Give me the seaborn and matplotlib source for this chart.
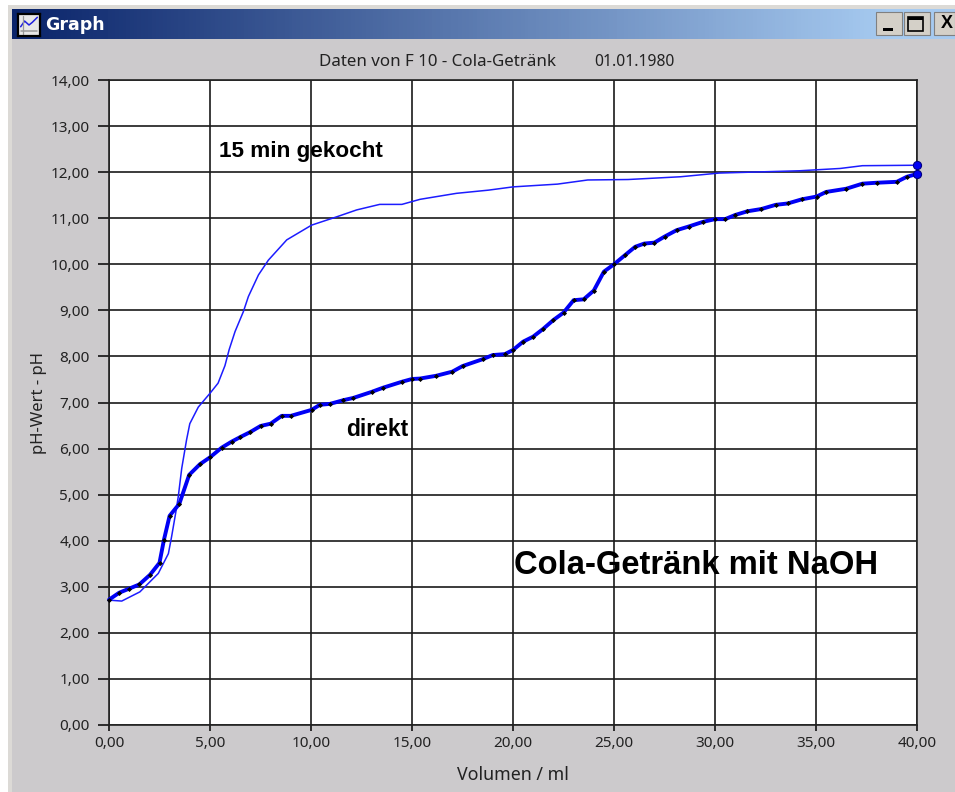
import matplotlib
matplotlib.use('Agg')
import numpy as np
import pandas as pd
import matplotlib.pyplot as plt
import seaborn as sns
from matplotlib.patches import Rectangle

# curve readings from the picture
direkt_vol = [0.0, 0.5, 1.0, 1.5, 2.03, 2.5, 2.72, 3.0, 3.48, 3.97, 4.5, 5.0, 5.58, 6.07, 6.5, 7.0,
              7.5, 8.0, 8.55, 9.0, 10.03, 10.44, 10.94, 11.6, 12.1, 13.0, 13.56, 14.5, 15.0, 15.4,
              16.2, 17.0, 17.5, 18.5, 19.0, 19.6, 20.0, 20.5, 21.0, 21.5, 22.0, 22.5, 23.0, 23.5,
              24.0, 24.5, 25.0, 25.55, 26.05, 26.5, 27.0, 27.5, 28.1, 28.7, 29.4, 30.0, 30.5, 31.0,
              31.6, 32.3, 33.0, 33.6, 34.3, 35.03, 35.5, 36.5, 37.3, 38.0, 39.0, 39.5, 40.0]
direkt_ph = [2.72, 2.87, 2.96, 3.05, 3.26, 3.52, 4.02, 4.54, 4.8, 5.43, 5.66, 5.81, 6.02, 6.15, 6.25,
             6.36, 6.49, 6.54, 6.71, 6.71, 6.84, 6.95, 6.97, 7.05, 7.1, 7.23, 7.32, 7.45, 7.51, 7.52,
             7.58, 7.67, 7.79, 7.94, 8.03, 8.05, 8.14, 8.32, 8.43, 8.6, 8.79, 8.95, 9.22, 9.24,
             9.43, 9.84, 10.0, 10.2, 10.38, 10.45, 10.47, 10.6, 10.74, 10.82, 10.92, 10.98, 10.98,
             11.07, 11.15, 11.2, 11.29, 11.32, 11.41, 11.47, 11.57, 11.64, 11.75, 11.77, 11.79,
             11.9, 11.96]

gekocht_vol = [0.0, 0.63, 1.53, 2.44, 2.94, 3.1, 3.3, 3.43, 3.6, 3.84, 4.0, 4.42, 5.0, 5.4, 5.74,
               5.95, 6.24, 6.65, 6.9, 7.4, 7.89, 8.8, 10.03, 11.27, 12.26, 13.4, 14.5, 15.4, 17.2,
               18.8, 20.0, 22.2, 23.7, 25.7, 28.3, 30.2, 34.2, 36.2, 37.3, 40.0]
gekocht_ph = [2.71, 2.69, 2.89, 3.29, 3.72, 4.09, 4.6, 4.96, 5.57, 6.19, 6.54, 6.9, 7.2, 7.42, 7.8,
              8.15, 8.54, 8.97, 9.3, 9.77, 10.09, 10.53, 10.85, 11.03, 11.18, 11.3, 11.3, 11.41,
              11.54, 11.61, 11.68, 11.74, 11.83, 11.84, 11.9, 11.98, 12.03, 12.08, 12.14, 12.15]

x_ticks = [0, 5, 10, 15, 20, 25, 30, 35, 40]
x_labels = ['0,00', '5,00', '10,00', '15,00', '20,00', '25,00', '30,00', '35,00', '40,00']
y_ticks = list(range(15))
y_labels = [f'{v},00' for v in y_ticks]

W, H = 955, 792
WINDOW_GRAY = '#cccacc'
TEXT_COL = '#222222'

sns.set_style('white')
plt.rcParams['font.family'] = ['Noto Sans', 'DejaVu Sans']

fig = plt.figure(figsize=(W / 100, H / 100), dpi=100, facecolor='white')


def fig_rect(px, py, w, h, **kw):
    # rectangle given in pixels from the top left corner
    fig.add_artist(Rectangle((px / W, 1 - (py + h) / H), w / W, h / H,
                             transform=fig.transFigure, **kw))


# window frame and title bar
fig_rect(8, 5, W - 8, H - 5, facecolor='#dcdad6', edgecolor='none')
fig_rect(12, 9, W - 12, H - 9, facecolor=WINDOW_GRAY, edgecolor='none')

bar = fig.add_axes([12 / W, 1 - 39 / H, (W - 12) / W, 30 / H], zorder=2)
gradient = np.linspace(0, 1, 256).reshape(1, -1)
cmap = matplotlib.colors.LinearSegmentedColormap.from_list('bar', ['#0a246a', '#a6caf0'])
bar.imshow(gradient, aspect='auto', cmap=cmap, extent=[0, 1, 0, 1], vmin=0, vmax=0.93)
bar.axis('off')

# title bar icon
icon = fig.add_axes([18 / W, 1 - 36 / H, 22 / W, 22 / H], zorder=3)
icon.set_xlim(0, 1)
icon.set_ylim(0, 1)
icon.set_facecolor('#e8e8e8')
icon.set_xticks([])
icon.set_yticks([])
for s in icon.spines.values():
    s.set_color('black')
    s.set_linewidth(1.6)
icon.plot([0.12, 0.3, 0.5, 0.65, 0.88], [0.42, 0.68, 0.5, 0.62, 0.85], color='#2020e0', lw=1.1)
icon.plot([0.12, 0.88], [0.22, 0.22], color='#999999', lw=1.1)
icon.plot([0.22, 0.22], [0.1, 0.9], color='#999999', lw=0.9)

fig.text(45 / W, 1 - 25 / H, 'Graph', color='white', fontsize=12.5, fontweight='bold',
         family='DejaVu Sans', va='center', zorder=4)

# window buttons
for bx, bw in [(876, 26), (904, 26), (934, 21)]:
    fig_rect(bx, 12, bw, 23, facecolor='#d4d0c8', edgecolor='#808080', lw=0.8, zorder=5)
fig_rect(883, 28, 10, 2.5, facecolor='black', edgecolor='none', zorder=6)
fig_rect(908, 17, 15, 14, facecolor='none', edgecolor='black', lw=1.2, zorder=6)
fig_rect(908, 17, 15, 2.5, facecolor='black', edgecolor='none', zorder=6)
fig.text(947 / W, 1 - 24 / H, 'X', color='black', fontsize=13, fontweight='bold', ha='center',
         va='center', zorder=6, family='Liberation Sans')

# plot area
ax = fig.add_axes([109 / W, 1 - 725 / H, (917 - 109) / W, (725 - 80) / H], zorder=1)
ax.set_facecolor('white')

direkt = pd.DataFrame({'vol': direkt_vol, 'ph': direkt_ph})
gekocht = pd.DataFrame({'vol': gekocht_vol, 'ph': gekocht_ph})

sns.lineplot(data=gekocht, x='vol', y='ph', ax=ax, color='#1c1cff', linewidth=1.1,
             errorbar=None, clip_on=False, zorder=3)
sns.lineplot(data=direkt, x='vol', y='ph', ax=ax, color='#0000f5', linewidth=2.8,
             errorbar=None, clip_on=False, zorder=4, marker='D', markersize=2.6,
             markerfacecolor='black', markeredgecolor='black', markeredgewidth=0)

# end points of both curves
ax.scatter([gekocht_vol[-1], direkt_vol[-1]], [gekocht_ph[-1], direkt_ph[-1]], s=34,
           color='#0000f5', edgecolor='#000080', linewidth=0.8, clip_on=False, zorder=5)

ax.set_xlim(0, 40)
ax.set_ylim(0, 14)
ax.set_xticks(x_ticks)
ax.set_xticklabels(x_labels)
ax.set_yticks(y_ticks)
ax.set_yticklabels(y_labels)
ax.grid(True, color='#1a1a1a', linewidth=1.2)
ax.set_axisbelow(True)
for s in ax.spines.values():
    s.set_visible(True)
    s.set_color('#222222')
    s.set_linewidth(1.2)
ax.tick_params(axis='x', length=4, width=1.2, color='#111111', labelsize=11, pad=4,
               bottom=True, labelcolor=TEXT_COL)
ax.tick_params(axis='y', length=8, width=1.2, color='#111111', labelsize=11, pad=6,
               left=True, labelcolor=TEXT_COL)
ax.set_xlabel('Volumen / ml', fontsize=12.8, color=TEXT_COL, labelpad=11)
ax.set_ylabel('pH-Wert - pH', fontsize=12, color=TEXT_COL, labelpad=2.5)

fig.text(319 / W, 1 - 62 / H, 'Daten von F 10 - Cola-Getränk', fontsize=12.2,
         color=TEXT_COL, ha='left', va='center', zorder=4)
fig.text(594 / W, 1 - 62 / H, '01.01.1980', fontsize=11.3,
         color=TEXT_COL, ha='left', va='center', zorder=4)

# hand written labels on the chart
for txt, tx, ty, size in [('15 min gekocht', 219, 152, 16.2),
                          ('direkt', 346, 430, 16.5),
                          ('Cola-Getränk mit NaOH', 514, 566, 23.6)]:
    fig.text(tx / W, 1 - ty / H, txt, fontsize=size, fontweight='bold', color='black',
             family='Liberation Sans', va='center', zorder=6)

fig.savefig('out.png', dpi=100, facecolor='white')
